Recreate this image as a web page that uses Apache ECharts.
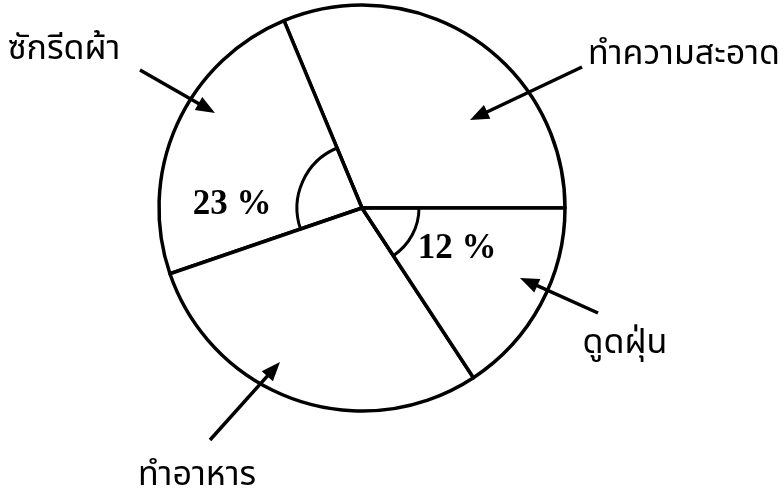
<!DOCTYPE html>
<html>
<head>
<meta charset="utf-8">
<script src="https://cdn.jsdelivr.net/npm/echarts@6/dist/echarts.min.js"></script>
<style>
  html, body { margin: 0; padding: 0; background: #fff; }
  #chart { width: 784px; height: 497px; }
</style>
</head>
<body>
<div id="chart"></div>
<script>
// slice order is counter-clockwise from 3 o'clock
const categories = ['ทำความสะอาด', 'ซักรีดผ้า', 'ทำอาหาร', 'ดูดฝุ่น']
// slice sizes as drawn (degrees)
const sliceDegrees = [112.6, 86.3, 104.4, 56.7]
// the two printed percentages
const percentLabels = ['', '23 %', '', '12 %']

const chart = echarts.init(document.getElementById('chart'))

const cx = 362
const cy = 208
const R = 203
const lw = 3.5

const pieData = categories.map((name, i) => ({ name, value: sliceDegrees[i] }))

// angle marker: only one slice gets an outline, the rest invisible
const arcData = idx => categories.map((name, i) => ({
  name,
  value: sliceDegrees[i],
  itemStyle: i === idx
    ? { color: 'rgba(0,0,0,0)', borderColor: '#000', borderWidth: 3 }
    : { color: 'rgba(0,0,0,0)', borderWidth: 0 }
}))

const baseSeries = {
  type: 'pie',
  center: [cx, cy],
  startAngle: 0,
  clockwise: false,
  silent: true,
  animation: false,
  label: { show: false },
  labelLine: { show: false },
  emphasis: { disabled: true }
}

// label text, its centre, arrow start and arrow tip
const callouts = [
  { text: categories[0], tx: 684, ty: 57, x1: 582, y1: 67, x2: 470, y2: 120 },
  { text: categories[1], tx: 64, ty: 52, x1: 140, y1: 70, x2: 215, y2: 113 },
  { text: categories[2], tx: 197, ty: 478, x1: 210, y1: 440, x2: 280, y2: 362 },
  { text: categories[3], tx: 625, ty: 346, x1: 598, y1: 313, x2: 520, y2: 278 }
]
const pctPos = [null, [232, 205], null, [457, 249]]

const arrow = (x1, y1, x2, y2) => {
  const len = Math.hypot(x2 - x1, y2 - y1)
  const ux = (x2 - x1) / len
  const uy = (y2 - y1) / len
  const hl = 19
  const hw = 7.5
  const bx = x2 - ux * hl
  const by = y2 - uy * hl
  return [
    { type: 'line', z: 100, shape: { x1, y1, x2: bx + ux * 2, y2: by + uy * 2 }, style: { stroke: '#000', lineWidth: 3.5 } },
    { type: 'polygon', z: 100, shape: { points: [[x2, y2], [bx - uy * hw, by + ux * hw], [bx + uy * hw, by - ux * hw]] }, style: { fill: '#000' } }
  ]
}

const thaiFont = "34px 'Noto Sans Thai', 'Loma', 'Garuda', 'Liberation Serif', 'DejaVu Serif', serif"
const pctFont = "bold 35px 'Liberation Serif', 'Times New Roman', serif"

const graphics = []
callouts.forEach(c => {
  graphics.push(...arrow(c.x1, c.y1, c.x2, c.y2))
  graphics.push({
    type: 'text', z: 100, x: c.tx, y: c.ty,
    style: { text: c.text, font: thaiFont, fill: '#000', textAlign: 'center', textVerticalAlign: 'middle', align: 'center', verticalAlign: 'middle' }
  })
})
percentLabels.forEach((t, i) => {
  if (!t) return
  graphics.push({
    type: 'text', z: 100, x: pctPos[i][0], y: pctPos[i][1],
    style: { text: t, font: pctFont, fill: '#000', textAlign: 'center', textVerticalAlign: 'middle', align: 'center', verticalAlign: 'middle' }
  })
})

chart.setOption({
  backgroundColor: '#fff',
  animation: false,
  series: [
    {
      ...baseSeries,
      radius: [0, R],
      itemStyle: { color: '#fff', borderColor: '#000', borderWidth: lw },
      data: pieData
    },
    { ...baseSeries, radius: [0, 65], data: arcData(1), z: 3 },
    { ...baseSeries, radius: [0, 57], data: arcData(3), z: 3 }
  ],
  graphic: { elements: graphics }
})
</script>
</body>
</html>
